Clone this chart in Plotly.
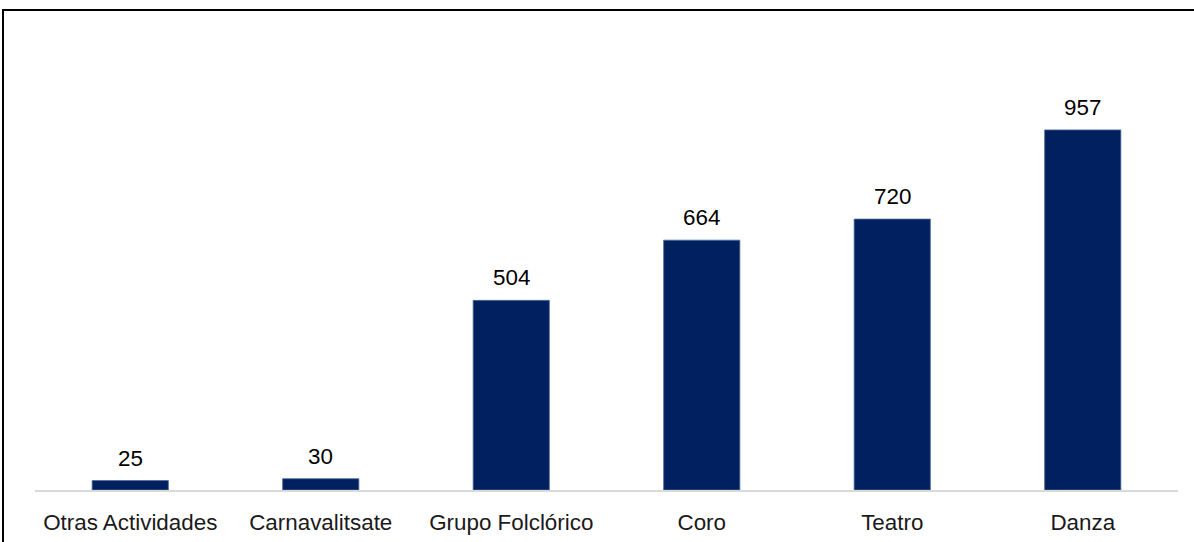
import plotly.graph_objects as go

categories = ["Otras Actividades", "Carnavalitsate", "Grupo Folclórico", "Coro", "Teatro", "Danza"]
values = [25, 30, 504, 664, 720, 957]
value_labels = ["25", "30", "504", "664", "720", "957"]

W, H = 1194, 542
L, R, T, B = 35, 16, 40, 52
pw, ph = W - L - R, H - T - B
FS = 22.4

fig = go.Figure()
fig.add_trace(go.Bar(
    x=categories, y=values,
    marker=dict(color="#002060", line=dict(color="#4a6a9a", width=0.8)),
    width=0.4, hoverinfo="skip",
))

for c, v, t in zip(categories, values, value_labels):
    fig.add_annotation(x=c, y=v, text=t, showarrow=False, yanchor="bottom",
                       yshift=8, font=dict(family="Liberation Sans, Arial", size=FS, color="#000000"))

# outer frame (cropped on right & bottom)
fig.add_shape(type="rect", xref="paper", yref="paper",
              x0=(3 - L) / pw, x1=(W + 20 - L) / pw,
              y0=-(H + 20 - (H - B)) / ph, y1=(H - B - 10) / ph,
              line=dict(color="#000000", width=2), fillcolor="rgba(0,0,0,0)", layer="above")

fig.update_layout(
    width=W, height=H,
    margin=dict(l=L, r=R, t=T, b=B, autoexpand=False),
    paper_bgcolor="white", plot_bgcolor="white",
    showlegend=False,
    font=dict(family="Liberation Sans, Arial", color="#1a1a1a"),
    xaxis=dict(showline=True, linecolor="#d9d9d9", linewidth=2, ticks="",
               tickfont=dict(size=FS, color="#1a1a1a"), ticklabelstandoff=11,
               showgrid=False, zeroline=False, automargin=False),
    yaxis=dict(range=[0, 1196], visible=False, showgrid=False, zeroline=False,
               automargin=False),
)

fig.write_html("out.html", config={"displayModeBar": False, "staticPlot": True},
               post_script="document.body.style.margin='0';document.body.style.overflow='hidden';")
